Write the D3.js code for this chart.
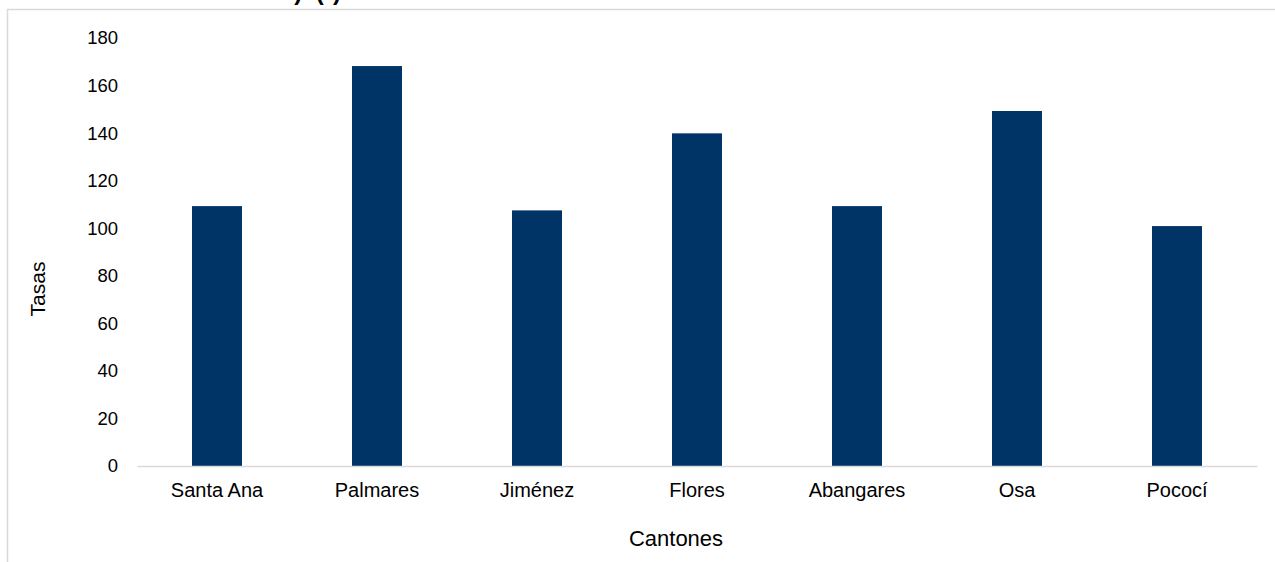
<!DOCTYPE html>
<html>
<head>
<meta charset="utf-8">
<script src="https://cdn.jsdelivr.net/npm/d3@7"></script>
<style>
  html, body { margin: 0; padding: 0; background: #fff; }
  svg { display: block; font-family: "Liberation Sans", Arial, sans-serif; }
</style>
</head>
<body>
<svg id="chart" width="1275" height="562"></svg>
<script>
const categories = ["Santa Ana", "Palmares", "Jiménez", "Flores", "Abangares", "Osa", "Pococí"];
const values = [109.3, 168.2, 107.5, 139.9, 109.3, 149.3, 100.9];
const yTicks = [0, 20, 40, 60, 80, 100, 120, 140, 160, 180];
const titleFragment = ")  (*)";
const xTitle = "Cantones";
const yTitle = "Tasas";

const svg = d3.select("#chart");
const W = 1275, H = 562;
const plot = { left: 137, right: 1257, top: 38, bottom: 466 };

// outer frame (partially visible)
svg.append("path")
  .attr("d", `M7.5,${H} V9.5 H${W}`)
  .attr("fill", "none")
  .attr("stroke", "#d9d9d9")
  .attr("stroke-width", 1.5);

// title fragment, clipped at the top of the page as in the reference
svg.append("text")
  .attr("x", 341).attr("y", 0)
  .attr("text-anchor", "end")
  .attr("font-size", 24)
  .attr("font-weight", "bold")
  .attr("fill", "#000")
  .style("white-space", "pre")
  .text(titleFragment);

const x = d3.scaleBand()
  .domain(categories)
  .range([plot.left, plot.right])
  .paddingInner(0.6875)
  .paddingOuter(0.34375);

const y = d3.scaleLinear()
  .domain([0, 180])
  .range([plot.bottom, plot.top]);

// bars
svg.append("g")
  .selectAll("rect")
  .data(values)
  .join("rect")
  .attr("x", (d, i) => x(categories[i]))
  .attr("width", x.bandwidth())
  .attr("y", d => y(d))
  .attr("height", d => y(0) - y(d))
  .attr("fill", "#003366");

// y axis (labels only)
const yAxis = d3.axisLeft(y).tickValues(yTicks).tickSize(0).tickPadding(0).tickFormat(d3.format("d"));
const yg = svg.append("g")
  .attr("transform", `translate(${plot.left - 19},0)`)
  .call(yAxis);
yg.select(".domain").remove();
yg.selectAll("text")
  .attr("font-size", 18.5)
  .attr("fill", "#000")
  .attr("font-family", "'Liberation Sans', Arial, sans-serif");

// x axis
const xAxis = d3.axisBottom(x).tickSize(0).tickPadding(0);
const xg = svg.append("g")
  .attr("transform", `translate(0,${plot.bottom})`)
  .call(xAxis);
xg.select(".domain")
  .attr("stroke", "#d9d9d9")
  .attr("stroke-width", 1.5);
xg.selectAll("text")
  .attr("font-size", 20)
  .attr("fill", "#000")
  .attr("dy", "0")
  .attr("y", 31)
  .attr("font-family", "'Liberation Sans', Arial, sans-serif");

// axis titles
svg.append("text")
  .attr("x", 676)
  .attr("y", 546)
  .attr("text-anchor", "middle")
  .attr("font-size", 22)
  .attr("fill", "#000")
  .text(xTitle);

svg.append("text")
  .attr("transform", `translate(45,289) rotate(-90)`)
  .attr("text-anchor", "middle")
  .attr("font-size", 21)
  .attr("fill", "#000")
  .text(yTitle);
</script>
</body>
</html>
